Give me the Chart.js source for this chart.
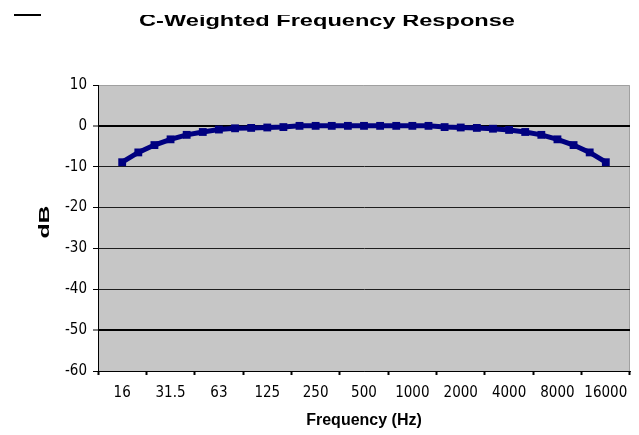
<!DOCTYPE html>
<html>
<head>
<meta charset="utf-8">
<script src="https://cdn.jsdelivr.net/npm/chart.js@4.4.1/dist/chart.umd.min.js"></script>
<style>
  html, body { margin: 0; padding: 0; background: #fff; }
</style>
</head>
<body>
<canvas id="myChart" width="639" height="435"></canvas>
<script>
// values
const chartTitle = 'C-Weighted Frequency Response';
const xTitle = 'Frequency (Hz)';
const yTitle = 'dB';
const octaveLabels = ['16', '31.5', '63', '125', '250', '500', '1000', '2000', '4000', '8000', '16000'];
// 1/3 octave bands from 16 Hz to 16 kHz
const bandHz = [16, 20, 25, 31.5, 40, 50, 63, 80, 100, 125, 160, 200, 250, 315, 400, 500,
  630, 800, 1000, 1250, 1600, 2000, 2500, 3150, 4000, 5000, 6300, 8000, 10000, 12500, 16000];
const responseDb = [-8.9, -6.5, -4.7, -3.3, -2.2, -1.5, -0.9, -0.6, -0.5, -0.4, -0.3, 0, 0, 0, 0, 0,
  0, 0, 0, 0, -0.3, -0.4, -0.5, -0.7, -1.0, -1.5, -2.2, -3.3, -4.7, -6.5, -8.9];
const yMin = -60;
const yMax = 10;
const yStep = 10;

const tickFont = { family: "'Liberation Sans Narrow', 'DejaVu Sans Condensed', Arial, sans-serif", size: 15 };

const plotBackground = {
    id: 'plotBackground',
    beforeDraw: (chart) => {
        const { ctx, chartArea: a } = chart;
        ctx.save();
        ctx.fillStyle = '#c6c6c6';
        ctx.fillRect(a.left, a.top, a.right - a.left, a.bottom - a.top);
        ctx.strokeStyle = '#a0a0a0';
        ctx.lineWidth = 1;
        ctx.beginPath();
        ctx.moveTo(a.left, a.top + 0.5);
        ctx.lineTo(a.right - 0.5, a.top + 0.5);
        ctx.lineTo(a.right - 0.5, a.bottom);
        ctx.stroke();
        ctx.restore();
    }
};

// title sits clipped at the top edge, plus the stray dash at top left
const extraText = {
    id: 'extraText',
    afterDraw: (chart) => {
        const ctx = chart.ctx;
        ctx.save();
        ctx.fillStyle = '#000';
        ctx.fillRect(14, 14, 27, 2);
        ctx.beginPath();
        ctx.rect(0, 15, chart.width, 40);
        ctx.clip();
        ctx.font = 'bold 17px "Liberation Sans", Arial, sans-serif';
        ctx.textBaseline = 'alphabetic';
        const w = ctx.measureText(chartTitle).width;
        ctx.translate(139, 26);
        ctx.scale(376 / w, 1);
        ctx.fillText(chartTitle, 0, 0);
        ctx.restore();

        ctx.save();
        ctx.fillStyle = '#000';
        ctx.font = 'bold 15px "Liberation Sans", Arial, sans-serif';
        ctx.translate(45, 222);
        ctx.rotate(-Math.PI / 2);
        const dw = ctx.measureText(yTitle).width;
        ctx.scale(33 / dw, 1);
        ctx.textAlign = 'center';
        ctx.textBaseline = 'middle';
        ctx.fillText(yTitle, 0, 0);
        ctx.restore();
    }
};

const ctx = document.getElementById('myChart').getContext('2d');
const myChart = new Chart(ctx, {
    type: 'line',
    data: {
        labels: octaveLabels,
        datasets: [{
            label: 'C-weighting',
            xAxisID: 'xf',
            data: bandHz.map((f, i) => ({ x: i / 3, y: responseDb[i] })),
            borderColor: '#000080',
            backgroundColor: '#000080',
            borderWidth: 5,
            pointStyle: 'rect',
            pointRadius: 2,
            tension: 0
        }]
    },
    plugins: [plotBackground, extraText],
    options: {
        responsive: false,
        animation: false,
        devicePixelRatio: 1,
        layout: { padding: { top: 85, right: 7, left: 0, bottom: 0 } },
        plugins: {
            legend: { display: false },
            tooltip: { enabled: false }
        },
        scales: {
            x: {
                type: 'category',
                offset: true,
                afterFit: (scale) => { scale.height = 64; },
                grid: {
                    offset: true,
                    drawOnChartArea: false,
                    drawTicks: true,
                    tickLength: 4,
                    tickColor: '#000',
                    tickWidth: 2
                },
                border: { color: '#000', width: 1 },
                ticks: { color: '#000', font: tickFont, padding: 9, maxRotation: 0, autoSkip: false },
                title: {
                    display: true,
                    text: xTitle,
                    color: '#000',
                    font: { family: "'Liberation Sans', Arial, sans-serif", size: 16, weight: 'bold' },
                    padding: { top: 0, bottom: 5 }
                }
            },
            xf: {
                type: 'linear',
                display: false,
                min: -0.5,
                max: 10.5
            },
            y: {
                min: yMin,
                max: yMax,
                afterFit: (scale) => { scale.width = 98; },
                ticks: { stepSize: yStep, color: '#000', font: tickFont, padding: 6 },
                grid: {
                    color: (c) => {
                        if (c.tick.value === yMax) return 'rgba(0,0,0,0)';
                        return (c.tick.value === 0 || c.tick.value === -50) ? '#000' : '#1e1e1e';
                    },
                    lineWidth: (c) => (c.tick.value === 0 || c.tick.value === -50) ? 2 : 1,
                    tickLength: 5,
                    tickColor: '#000',
                    tickWidth: 1
                },
                border: { color: '#000', width: 1 }
            }
        }
    }
});
</script>
</body>
</html>
